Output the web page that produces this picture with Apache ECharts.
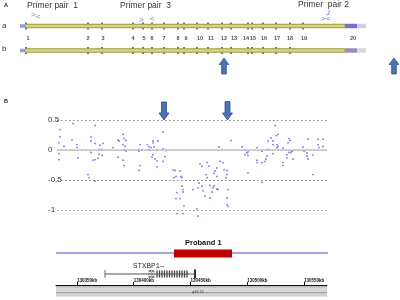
<!DOCTYPE html>
<html>
<head>
<meta charset="utf-8">
<script src="https://cdn.jsdelivr.net/npm/echarts@6/dist/echarts.min.js"></script>
<style>
  html, body { margin: 0; padding: 0; background: #fff; }
  #main { width: 400px; height: 300px; }
</style>
</head>
<body>
<div id="main"></div>
<script>
// exon layout of the gene (panel A), in schematic units
var exonNames = ['1','2','3','4','5','6','7','8','9','10','11','12','13','14','15','16','17','18','19','20'];
var exonPosA = [26, 88, 102, 133, 143, 152, 164, 178, 184, 197, 208, 222, 231, 248, 252, 263, 276, 290, 303];
var exonPosB = [26, 88, 102, 133, 143, 152, 164, 178, 184, 197, 208, 222, 231, 248, 252, 263, 276, 290];
var exonLabelPos = [28, 88, 103, 133, 144, 152, 164, 178, 186, 200, 211, 224, 234, 246, 253, 264, 277, 290, 304, 353];

// array CGH probes (panel B): position along the region and log2 ratio
var probePos = [
  2, 2, 2, 3, 3, 7, 15, 16, 20, 20,
  21, 31, 32, 34, 34, 34, 36, 38, 38, 38,
  38, 41, 42, 42, 43, 45, 45, 46, 56, 61,
  61, 62, 66, 66, 66, 67, 67, 67, 68, 69,
  69, 82, 82, 82, 83, 83, 85, 90, 92, 92,
  94, 95, 96, 96, 96, 97, 98, 100, 100, 100,
  101, 106, 106, 106, 108, 109, 116, 117, 118, 119,
  119, 120, 120, 123, 123, 124, 125, 125, 126, 126,
  126, 127, 136, 140, 141, 141, 142, 143, 145, 145,
  146, 148, 149, 150, 150, 152, 153, 153, 155, 156,
  157, 157, 158, 160, 160, 160, 161, 162, 163, 166,
  167, 169, 170, 170, 170, 170, 171, 171, 174, 185,
  188, 188, 190, 191, 191, 191, 200, 200, 200, 205,
  205, 205, 208, 209, 210, 211, 211, 214, 216, 216,
  216, 218, 219, 220, 220, 221, 221, 226, 226, 226,
  230, 230, 231, 232, 232, 233, 234, 235, 236, 246,
  247, 250, 250, 251, 251, 256, 256, 261, 261, 262,
  266, 266
];
var probeRatio = [
  0.12, -0.06, -0.16, 0.34, 0.22, 0.06, 0.17, 0.44, 0.09, 0.04,
  -0.13, -0.41, -0.46, 0.22, 0.15, -0.04, -0.17, 0.41, 0.11, -0.16,
  -0.52, -0.14, 0.01, -0.07, 0.08, 0.01, -0.09, 0.11, 0.04, 0.17,
  -0.12, 0.15, 0.26, 0.09, -0.17, 0.19, 0.0, -0.26, 0.06, 0.16,
  -0.02, 0.01, -0.02, -0.34, 0.09, -0.26, 0.0, 0.09, 0.06, 0.01,
  0.04, -0.12, 0.12, 0.15, -0.08, 0.05, -0.15, 0.0, -0.18, -0.28,
  0.15, 0.3, 0.02, -0.19, -0.11, -0.01, -0.33, -0.46, -0.34, -0.44,
  -0.81, -0.71, -1.06, -0.35, -0.81, -0.44, -0.46, -0.6, -0.66, -0.7,
  -1.06, -0.93, -0.66, -0.98, -1.1, -0.63, -0.55, -0.23, -0.27, -0.6,
  -0.68, -0.77, -0.41, -0.21, -0.46, -0.27, -0.8, -0.59, -0.7, -0.63,
  -0.6, -0.39, -0.35, -0.3, -0.44, -0.65, -0.66, 0.05, -0.19, -0.21,
  -0.33, -0.46, -0.34, -0.41, -0.8, -0.91, -0.66, -0.94, 0.16, 0.05,
  0.0, -0.08, -0.05, -0.03, -0.09, -0.38, 0.04, -0.17, -0.21, -0.02,
  -0.21, -0.54, -0.19, -0.15, -0.1, 0.01, 0.15, 0.2, 0.15, 0.09,
  -0.06, 0.41, 0.24, 0.09, 0.04, 0.26, 0.06, 0.03, -0.21, -0.26,
  -0.08, -0.13, 0.12, 0.19, -0.04, 0.16, -0.04, -0.02, -0.15, 0.05,
  -0.02, -0.05, -0.1, 0.18, -0.15, -0.08, -0.41, 0.18, 0.09, 0.04,
  0.18, 0.06
];
var ratioTicks = [-1, -0.5, 0, 0.5];

// genome browser track
var rulerKb = [130350, 130400, 130450, 130500, 130550];
var deletionSpan = [174, 232];
var stxbp1Hollow = [150, 153];
var stxbp1Exons = [157, 159.5, 162, 164.5, 167, 169.5, 172, 174.5, 177, 179.5, 182, 184.5, 187];
var stxbp1Last = [195];

var FONT = 'Liberation Sans';

function seg(x0, x1, y, color, width) {
  return {
    type: 'line', xAxisIndex: 0, yAxisIndex: 0,
    data: [[x0, y], [x1, y]],
    symbol: 'none', silent: true,
    lineStyle: { color: color, width: width, cap: 'butt' }
  };
}

function ticks(xs, y, size, style) {
  return {
    type: 'scatter', xAxisIndex: 0, yAxisIndex: 0,
    data: xs.map(function (x) { return [x, y]; }),
    symbol: 'rect', symbolSize: size, silent: true,
    itemStyle: style
  };
}

function upArrow(cx, top, bottom) {
  return { type: 'polygon', z: 100, shape: { points: [
    [cx, top], [cx + 4.8, top + 6.5], [cx + 2.3, top + 6.5], [cx + 2.3, bottom],
    [cx - 2.3, bottom], [cx - 2.3, top + 6.5], [cx - 4.8, top + 6.5]
  ] }, style: { fill: '#4a74b4', stroke: '#2c4f86', lineWidth: 0.8 } };
}

function downArrow(cx, top, tip) {
  return { type: 'polygon', z: 100, shape: { points: [
    [cx - 2.5, top], [cx + 2.5, top], [cx + 2.5, tip - 7], [cx + 5, tip - 7],
    [cx, tip], [cx - 5, tip - 7], [cx - 2.5, tip - 7]
  ] }, style: { fill: '#4a74b4', stroke: '#2c4f86', lineWidth: 0.8 } };
}

function txt(s, x, y, size, opts) {
  opts = opts || {};
  return { type: 'text', z: 100, x: x, y: y, style: {
    text: s, fontSize: size, fontFamily: opts.family || FONT,
    fontWeight: opts.weight || 'normal', fill: opts.color || '#222',
    align: opts.align || 'left', verticalAlign: 'middle'
  } };
}

var series = [];

// panel A: two transcript rows
[{ y: 26, exons: exonPosA, utr: '#7a70cc', tail: '#cfcfe2' },
 { y: 50.5, exons: exonPosB, utr: '#9890b4', tail: '#d6d6de' }].forEach(function (row) {
  series.push(seg(20, 25, row.y, '#8ea0d0', 3.5));
  series.push(seg(25, 345, row.y, '#9c9c44', 4.5));
  series.push(seg(25.5, 344.5, row.y, '#d6d67c', 2.5));
  series.push(seg(345, 357, row.y, row.utr, 4.5));
  series.push(seg(357, 366, row.y, row.tail, 4.5));
  series.push(ticks(row.exons, row.y, [1.6, 7], { color: '#1e1e66' }));
});

series.push({
  type: 'scatter', xAxisIndex: 0, yAxisIndex: 0, silent: true,
  symbolSize: 0,
  data: exonNames.map(function (n, i) { return { name: n, value: [exonLabelPos[i], 38] }; }),
  label: { show: true, position: 'inside', formatter: '{b}', fontSize: 5.5,
    fontWeight: 'bold', fontFamily: FONT, color: '#222' }
});

// panel B: log2 ratio scatter
series.push({
  type: 'scatter', xAxisIndex: 1, yAxisIndex: 1, clip: false,
  symbolSize: 1.8, itemStyle: { color: '#5252d6' },
  data: probePos.map(function (x, i) { return [x, probeRatio[i]]; }),
  markLine: {
    silent: true, symbol: ['none', 'none'], label: { show: false },
    lineStyle: { color: '#c6c6c6', width: 1.6, type: 'solid' },
    data: [{ yAxis: 0 }]
  }
});

// proband track
series.push(seg(56, 328, 253, '#8e7ee0', 1.3));
series.push(seg(deletionSpan[0], deletionSpan[1], 253.5, '#c00000', 8));
series.push({
  type: 'scatter', xAxisIndex: 0, yAxisIndex: 0, silent: true, symbolSize: 0,
  data: [[202, 253.5]],
  label: { show: true, position: 'inside', formatter: '\u25BD', fontSize: 5, color: '#fff' }
});

// STXBP1 gene model
series.push(seg(105, 195, 274, '#555', 1));
series.push(ticks([105], 274, [1, 8], { color: '#444' }));
series.push(ticks(stxbp1Hollow, 274, [2, 6], { color: '#fff', borderColor: '#666', borderWidth: 0.6 }));
series.push(ticks(stxbp1Exons, 274, [1.3, 7], { color: '#111' }));
series.push(ticks(stxbp1Last, 274, [2.2, 9], { color: '#000' }));

// ideogram bands under the ruler
series.push(seg(56, 327, 287, '#555', 0.8));
series.push(seg(56, 327, 290, '#d8d8d8', 5));
series.push(seg(56, 327, 292.8, '#8a8a8a', 1.2));
series.push(seg(56, 327, 295, '#d2d2d2', 3));

// dummy series so the ruler axis is drawn
series.push({ type: 'line', xAxisIndex: 2, yAxisIndex: 2, data: [], silent: true });

var myChart = echarts.init(document.getElementById('main'));
var option = {
  animation: false,
  backgroundColor: '#fff',
  grid: [
    { left: 0, top: 0, width: 400, height: 300 },
    { left: 57, top: 120, width: 270, height: 90 },
    { left: 56, top: 275, width: 271, height: 10 }
  ],
  xAxis: [
    { gridIndex: 0, type: 'value', min: 0, max: 400, show: false },
    { gridIndex: 1, type: 'value', min: 0, max: 270, show: false },
    {
      gridIndex: 2, type: 'value', min: 130331.5, max: 130570.3,
      axisLine: { show: true, lineStyle: { color: '#111', width: 1 } },
      axisTick: { show: true, inside: true, length: 3, customValues: rulerKb,
        lineStyle: { color: '#111' } },
      axisLabel: { show: true, inside: true, customValues: rulerKb, margin: 2,
        align: 'left', fontSize: 4.5, fontWeight: 'bold', color: '#111', fontFamily: FONT,
        formatter: function (v) { return v + 'kb'; } },
      splitLine: { show: false }
    }
  ],
  yAxis: [
    { gridIndex: 0, type: 'value', min: 0, max: 300, inverse: true, show: false },
    {
      gridIndex: 1, type: 'value', min: -1, max: 0.5, interval: 0.5,
      axisLine: { show: false },
      axisTick: { show: false },
      axisLabel: { margin: 9, align: 'left', fontSize: 8, color: '#333', fontFamily: FONT,
        formatter: function (v) { return ratioTicks.indexOf(v) >= 0 ? String(v) : ''; } },
      splitLine: { show: true, lineStyle: { color: '#888', width: 1, type: [1.5, 2.5] } }
    },
    { gridIndex: 2, type: 'value', show: false }
  ],
  graphic: [
    txt('A', 4, 5.5, 5.5, { weight: 'bold' }),
    txt('Primer pair  1', 27, 6, 8.5, { color: '#333' }),
    txt('Primer pair  3', 120, 6, 8.5, { color: '#333' }),
    txt('Primer  pair 2', 298, 5, 8.5, { color: '#333' }),
    txt('>', 31, 15, 8, { color: '#5b80c4' }),
    txt('<', 36, 17, 8, { color: '#5b80c4' }),
    txt('>', 139, 19.5, 8, { color: '#5b80c4' }),
    txt('<', 150, 18.5, 8, { color: '#5b80c4' }),
    txt('>', 321, 19, 8, { color: '#5b80c4' }),
    txt('<', 326, 19, 8, { color: '#5b80c4' }),
    { type: 'polyline', z: 100, shape: { points: [[329, 10], [329, 14], [326.5, 15]] },
      style: { stroke: '#5b80c4', lineWidth: 0.8, fill: null } },
    txt('a', 2, 25.5, 8, { color: '#333' }),
    txt('b', 2, 48.5, 8, { color: '#333' }),
    upArrow(224, 58, 74),
    upArrow(394, 58, 74),
    txt('B', 4, 101, 5.5, { weight: 'bold' }),
    downArrow(164, 102, 120),
    downArrow(227.5, 101.5, 120),
    txt('Proband 1', 185, 243, 7.5, { weight: 'bold', color: '#111' }),
    txt('STXBP1\u2192', 133, 266, 7.5, { family: 'Liberation Mono', color: '#333' }),
    txt('q34.11', 192, 292, 4, { color: '#333' })
  ],
  series: series
};
myChart.setOption(option);
</script>
</body>
</html>
